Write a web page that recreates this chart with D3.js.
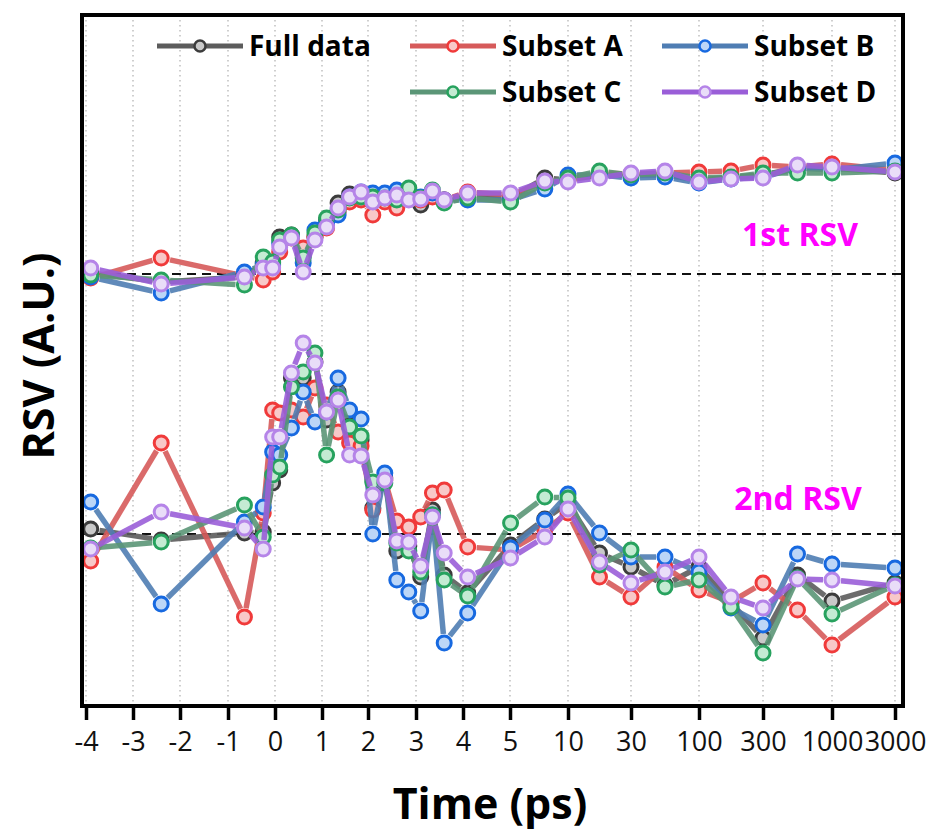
<!DOCTYPE html>
<html lang="en">
<head>
<meta charset="UTF-8">
<title>RSV</title>
<script src="https://cdn.jsdelivr.net/npm/d3@7"></script>
<style>
  body { margin: 0; background: #fff; }
  svg { font-family: "Open Sans", "Noto Sans", sans-serif; }
</style>
</head>
<body>
<script>
// time points (ps)
const times = [-3.9, -2.4, -0.65, -0.25, -0.05, 0.1, 0.35, 0.6, 0.85, 1.1,
  1.35, 1.6, 1.85, 2.1, 2.35, 2.6, 2.85, 3.1, 3.35, 3.6,
  4.1, 5.05, 8, 10, 20, 30, 65, 100, 200, 300,
  650, 1000, 3000];

const tickVals = [-4, -3, -2, -1, 0, 1, 2, 3, 4, 5, 10, 30, 100, 300, 1000, 3000];

const seriesNames = ['Full data', 'Subset A', 'Subset B', 'Subset C', 'Subset D'];

// 1st RSV, relative to its own baseline
const rsv1Full = [0.01, -0.08, -0.03, 0.11, 0.11, 0.37, 0.39, 0.19, 0.37, 0.54,
  0.71, 0.80, 0.80, 0.76, 0.77, 0.78, 0.76, 0.69, 0.79, 0.74,
  0.77, 0.76, 0.96, 0.94, 0.99, 0.99, 0.99, 0.94, 0.97, 0.99,
  1.06, 1.06, 1.01];
const rsv1A = [-0.04, 0.16, -0.02, -0.06, 0.02, 0.22, 0.36, 0.26, 0.37, 0.46,
  0.62, 0.72, 0.74, 0.59, 0.72, 0.66, 0.76, 0.74, 0.77, 0.74,
  0.82, 0.79, 0.92, 0.94, 1.01, 1.00, 1.01, 1.02, 1.03, 1.09,
  1.07, 1.10, 1.04];
const rsv1B = [-0.03, -0.19, 0.02, 0.09, 0.09, 0.31, 0.38, 0.11, 0.44, 0.51,
  0.59, 0.77, 0.82, 0.81, 0.81, 0.84, 0.77, 0.77, 0.81, 0.74,
  0.74, 0.74, 0.85, 0.99, 0.99, 0.96, 0.97, 0.91, 0.95, 0.97,
  1.06, 1.04, 1.11];
const rsv1C = [-0.01, -0.06, -0.11, 0.17, 0.12, 0.34, 0.39, 0.16, 0.41, 0.56,
  0.64, 0.76, 0.77, 0.77, 0.76, 0.74, 0.86, 0.76, 0.84, 0.71,
  0.76, 0.72, 0.91, 0.96, 1.03, 0.99, 1.01, 0.96, 0.97, 1.01,
  1.01, 1.01, 1.03];
const rsv1D = [0.06, -0.10, -0.03, 0.06, 0.06, 0.27, 0.36, 0.02, 0.34, 0.47,
  0.66, 0.77, 0.82, 0.72, 0.76, 0.79, 0.74, 0.75, 0.83, 0.74,
  0.81, 0.81, 0.93, 0.92, 0.96, 1.01, 1.03, 0.92, 0.95, 0.96,
  1.09, 1.07, 1.02];

// 2nd RSV
const rsv2Full = [0.05, -0.06, 0.01, 0.02, 0.51, 0.64, 1.56, 1.56, 1.72, 1.14,
  1.42, 1.09, 0.94, 0.26, 0.56, -0.17, -0.12, -0.43, 0.24, -0.41,
  -0.59, -0.11, 0.15, 0.31, -0.19, -0.33, -0.51, -0.33, -0.69, -1.04,
  -0.41, -0.67, -0.49];
const rsv2A = [-0.27, 0.91, -0.83, 0.21, 1.24, 1.21, 1.24, 1.17, 1.46, 1.29,
  1.02, 0.91, 0.88, 0.24, 0.54, 0.13, 0.07, 0.17, 0.41, 0.44,
  -0.13, -0.16, 0.04, 0.21, -0.43, -0.63, -0.33, -0.56, -0.68, -0.49,
  -0.76, -1.11, -0.63];
const rsv2B = [0.32, -0.70, 0.12, 0.27, 0.82, 0.79, 1.06, 1.42, 1.12, 1.22,
  1.56, 1.24, 1.15, 0.00, 0.61, -0.46, -0.58, -0.77, 0.19, -1.09,
  -0.79, -0.14, 0.14, 0.40, 0.01, -0.23, -0.23, -0.38, -0.74, -0.91,
  -0.20, -0.30, -0.34];
const rsv2C = [-0.14, -0.08, 0.29, -0.03, 0.59, 0.67, 1.47, 1.62, 1.81, 0.79,
  1.37, 1.07, 0.98, 0.52, 0.51, -0.09, -0.17, -0.38, 0.19, -0.46,
  -0.62, 0.11, 0.37, 0.36, -0.31, -0.16, -0.53, -0.46, -0.73, -1.19,
  -0.44, -0.80, -0.51];
const rsv2D = [-0.15, 0.22, 0.06, -0.15, 0.97, 0.97, 1.61, 1.91, 1.71, 1.22,
  1.34, 0.79, 0.78, 0.39, 0.54, -0.07, -0.08, -0.32, 0.17, -0.19,
  -0.43, -0.24, -0.03, 0.25, -0.28, -0.49, -0.38, -0.23, -0.63, -0.74,
  -0.45, -0.46, -0.52];

const rsv1Offset = 2.6;

const width = 928, height = 835;
const margins = { left: 82, right: 903, top: 15, bottom: 706 };

// broken time axis: tick values sit at roughly even spacing
const tickPx = [86, 133, 180, 228, 275, 322, 368, 416, 463, 510, 568, 631, 699, 763, 832, 895];
const x = d3.scaleLinear().domain(tickVals).range(tickPx);
const y = d3.scaleLinear().domain([-1.72, 5.19]).range([margins.bottom, margins.top]);

const styles = [
  { line: '#5c5c5c', stroke: '#3c3c3c', fill: '#c9c9c9' },
  { line: '#d65a5a', stroke: '#f03a3a', fill: '#f8c8c8' },
  { line: '#4f7db3', stroke: '#1769e0', fill: '#bcd6f7' },
  { line: '#5b9677', stroke: '#27a25e', fill: '#c4ebd3' },
  { line: '#9a5ed8', stroke: '#b584e8', fill: '#e9ddf8' }
];

const rsv1 = [rsv1Full, rsv1A, rsv1B, rsv1C, rsv1D];
const rsv2 = [rsv2Full, rsv2A, rsv2B, rsv2C, rsv2D];

const svg = d3.select('body').append('svg')
  .attr('width', width)
  .attr('height', height);

// dotted vertical grid
svg.append('g')
  .selectAll('line')
  .data(tickVals)
  .enter().append('line')
  .attr('x1', d => x(d)).attr('x2', d => x(d))
  .attr('y1', margins.top).attr('y2', margins.bottom)
  .attr('stroke', '#b5b5b5')
  .attr('stroke-width', 1.3)
  .attr('stroke-dasharray', '1.5,3.5');

// zero lines
svg.append('g')
  .selectAll('line')
  .data([0, rsv1Offset])
  .enter().append('line')
  .attr('x1', margins.left).attr('x2', margins.right)
  .attr('y1', d => y(d)).attr('y2', d => y(d))
  .attr('stroke', '#111')
  .attr('stroke-width', 2)
  .attr('stroke-dasharray', '9,6');

const r = 7;

function drawSeries(g, values, offset, st) {
  const pts = times.map((t, i) => [x(t), y(values[i] + offset)]);
  const segs = [];
  for (let i = 0; i < pts.length - 1; i++) {
    const [x0, y0] = pts[i], [x1, y1] = pts[i + 1];
    const len = Math.hypot(x1 - x0, y1 - y0);
    const gap = r + 2;
    if (len <= 2 * gap) continue;
    const ux = (x1 - x0) / len, uy = (y1 - y0) / len;
    segs.push([x0 + ux * gap, y0 + uy * gap, x1 - ux * gap, y1 - uy * gap]);
  }
  g.selectAll('line.seg')
    .data(segs)
    .enter().append('line')
    .attr('class', 'seg')
    .attr('x1', d => d[0]).attr('y1', d => d[1])
    .attr('x2', d => d[2]).attr('y2', d => d[3])
    .attr('stroke', st.line)
    .attr('stroke-width', 5.5)
    .attr('stroke-opacity', 0.9);
  g.selectAll('circle')
    .data(pts)
    .enter().append('circle')
    .attr('cx', d => d[0]).attr('cy', d => d[1])
    .attr('r', r)
    .attr('fill', st.fill)
    .attr('stroke', st.stroke)
    .attr('stroke-width', 3);
}

const body = svg.append('g');
seriesNames.forEach((name, i) => {
  const g = body.append('g');
  drawSeries(g.append('g'), rsv1[i], rsv1Offset, styles[i]);
  drawSeries(g.append('g'), rsv2[i], 0, styles[i]);
});

// frame
svg.append('rect')
  .attr('x', margins.left).attr('y', margins.top)
  .attr('width', margins.right - margins.left)
  .attr('height', margins.bottom - margins.top)
  .attr('fill', 'none')
  .attr('stroke', '#000')
  .attr('stroke-width', 4);

// x axis
const xAxis = d3.axisBottom(x)
  .tickValues(tickVals)
  .tickSize(12)
  .tickFormat(d => String(d));
const ax = svg.append('g')
  .attr('transform', 'translate(0,' + (margins.bottom + 2) + ')')
  .call(xAxis);
ax.select('.domain').remove();
ax.selectAll('.tick line').attr('stroke', '#000').attr('stroke-width', 3.5);
ax.selectAll('.tick text')
  .attr('y', 24)
  .attr('fill', '#111')
  .style('font-family', '"Open Sans", sans-serif')
  .style('font-size', '27px');

// axis titles
svg.append('text')
  .attr('x', 490).attr('y', 819)
  .attr('text-anchor', 'middle')
  .style('font-size', '43px')
  .style('font-weight', 'bold')
  .text('Time (ps)');

svg.append('text')
  .attr('transform', 'translate(54,356) rotate(-90)')
  .attr('text-anchor', 'middle')
  .style('font-size', '43px')
  .style('font-weight', 'bold')
  .text('RSV (A.U.)');

// curve labels
svg.append('text')
  .attr('x', 800).attr('y', 246)
  .attr('text-anchor', 'middle')
  .attr('fill', '#ff00ff')
  .style('font-size', '32px')
  .style('font-weight', 'bold')
  .text('1st RSV');
svg.append('text')
  .attr('x', 798).attr('y', 510)
  .attr('text-anchor', 'middle')
  .attr('fill', '#ff00ff')
  .style('font-size', '32px')
  .style('font-weight', 'bold')
  .text('2nd RSV');

// legend
const legendPos = [[157, 46], [410, 46], [662, 46], [410, 92], [662, 92]];
seriesNames.forEach((name, i) => {
  const [lx, ly] = legendPos[i];
  const g = svg.append('g').attr('transform', 'translate(' + lx + ',' + ly + ')');
  g.append('line')
    .attr('x1', 0).attr('x2', 86)
    .attr('y1', 0).attr('y2', 0)
    .attr('stroke', styles[i].line)
    .attr('stroke-width', 5);
  g.append('circle')
    .attr('cx', 43).attr('cy', 0).attr('r', 5.5)
    .attr('fill', styles[i].fill)
    .attr('stroke', styles[i].stroke)
    .attr('stroke-width', 2.5);
  g.append('text')
    .attr('x', 92).attr('y', 0)
    .attr('dy', '0.36em')
    .style('font-size', '28px')
    .style('font-weight', 'bold')
    .text(name);
});
</script>
</body>
</html>
